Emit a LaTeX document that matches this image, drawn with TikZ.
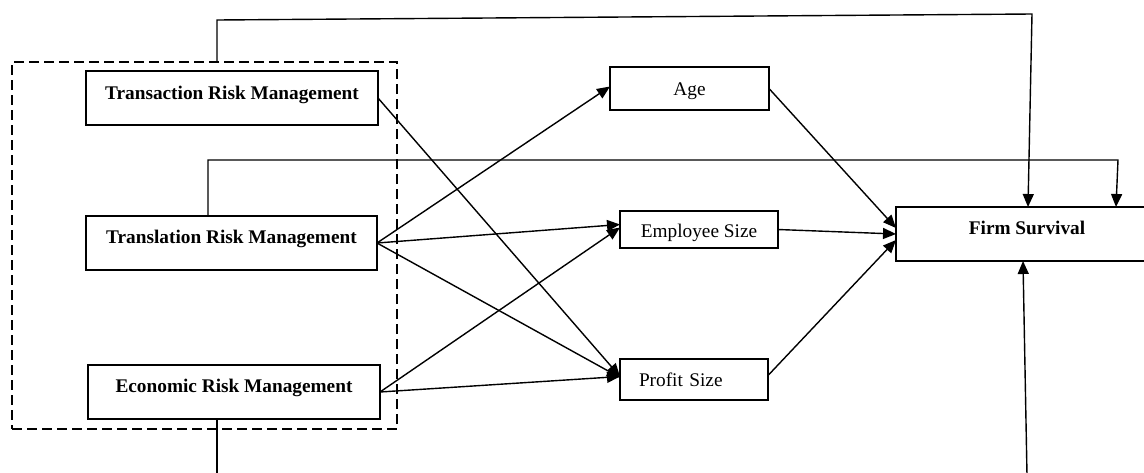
\documentclass[tikz,border=0pt]{standalone}
\usepackage{fontspec}
\setmainfont{Liberation Serif}
\usetikzlibrary{arrows.meta}
\begin{document}
\begin{tikzpicture}[x=1pt,y=-1pt,
  box/.style={draw, line width=1.6pt, inner sep=0pt, outer sep=0pt, anchor=north west, font=\fontsize{19.3}{23}\selectfont},
  bbox/.style={box, font=\fontsize{19.3}{23}\selectfont\bfseries},
  grpbox/.style={draw, dashed, dash pattern=on 10pt off 5pt, line width=1.7pt, inner sep=0pt, outer sep=0pt, anchor=north west},
  conn/.style={line width=1.4pt},
  arr/.style={conn, -{Triangle[length=13pt,width=11pt]}},
]
\useasboundingbox (0,0) rectangle (1144,472);
% group frame
\node[grpbox, minimum width=385pt, minimum height=367pt] (grp) at (12,62) {};
% independent variables
\node[bbox, minimum width=292pt, text height=28pt, text depth=26pt] (trans) at (86,71) {Transaction Risk Management};
\node[bbox, minimum width=291pt, text height=27pt, text depth=27pt] (transl) at (86,216) {Translation Risk Management};
\node[bbox, minimum width=292pt, text height=27pt, text depth=27pt] (econ) at (88,365) {Economic Risk Management};
% moderators
\node[box, minimum width=159pt, text height=28pt, text depth=15pt] (age) at (610,67) {Age};
\node[box, minimum width=158pt, text height=26pt, text depth=11pt] (emp) at (620,211) {Employee Size};
\node[box, inner xsep=19pt, text width=110pt, align=left, text height=27.5pt, text depth=13.5pt] (prof) at (620,359) {Profit Size};
% dependent
\node[bbox, minimum width=262pt, text height=27pt, text depth=27pt] (firm) at (896,207) {Firm Survival};
% arrows to moderators
\draw[arr] (trans.east) -- ([yshift=3pt]prof.west);
\draw[arr] (transl.east) -- ([yshift=2pt]age.west);
\draw[arr] (transl.east) -- ([yshift=5pt]emp.west);
\draw[arr] (transl.east) -- ([yshift=2pt]prof.west);
\draw[arr] (econ.east) -- ([yshift=2pt]emp.west);
\draw[arr] (econ.east) -- ([yshift=3pt]prof.west);
% moderators to firm survival
\draw[arr] (age.east) -- ([yshift=6pt]firm.west);
\draw[arr] (emp.east) -- (firm.west);
\draw[arr] ([yshift=4pt]prof.east) -- ([yshift=-6pt]firm.west);
% direct paths
\draw[arr] ([xshift=-15pt]trans.north |- grp.north) -- ++(0,-42) -- (1032,14) -- ([xshift=1pt]firm.north);
\draw[arr] ([xshift=-23.5pt]transl.north) -- ++(0,-56) -- (1118,160) -- ([xshift=89pt]firm.north);
\draw[conn] ([xshift=-17pt]econ.south) -- ++(0,60);
\draw[arr] (1027,475) -- ([xshift=-4pt]firm.south);
\end{tikzpicture}
\end{document}
